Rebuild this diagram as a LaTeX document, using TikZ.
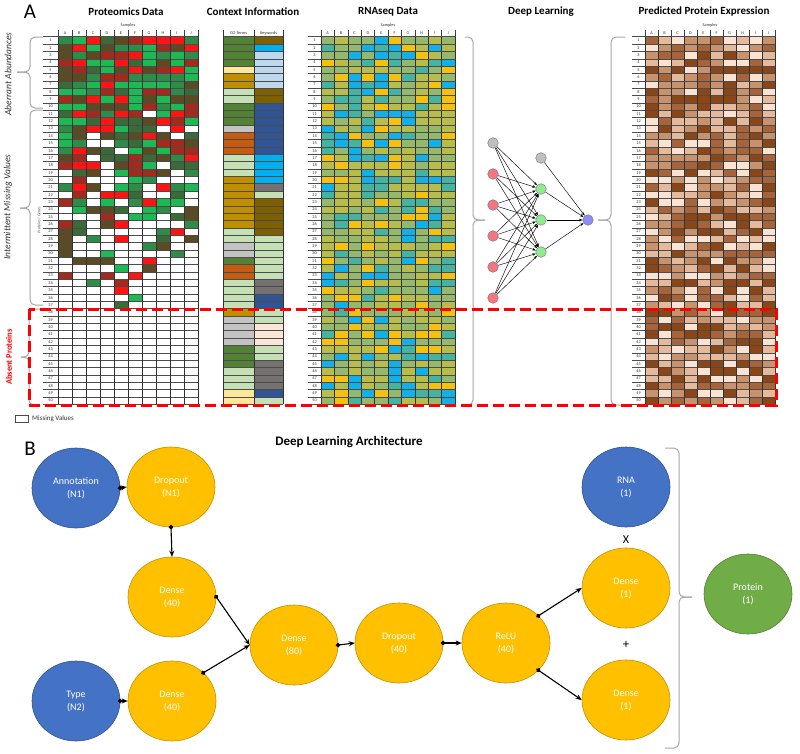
\documentclass[tikz,border=0pt]{standalone}
\usepackage{fontspec}
\setmainfont{Carlito}
\usetikzlibrary{arrows.meta,shapes.geometric}

\definecolor{pr1}{HTML}{FF1414}
\definecolor{pr2}{HTML}{A52A1E}
\definecolor{pr3}{HTML}{1DB954}
\definecolor{pr4}{HTML}{2E8B48}
\definecolor{pr5}{HTML}{3A6A38}
\definecolor{pr6}{HTML}{5B4A22}

\definecolor{rn1}{HTML}{B6BD4A}
\definecolor{rn2}{HTML}{B6BD4A}
\definecolor{rn3}{HTML}{94B86C}
\definecolor{rn4}{HTML}{94B86C}
\definecolor{rn5}{HTML}{45B3A2}
\definecolor{rn6}{HTML}{12B0E8}
\definecolor{rn7}{HTML}{F5C111}

\definecolor{pp1}{HTML}{FBE3D3}
\definecolor{pp2}{HTML}{E4B99C}
\definecolor{pp3}{HTML}{C8926C}
\definecolor{pp4}{HTML}{A7643A}
\definecolor{pp5}{HTML}{8A4616}

\definecolor{cdg}{HTML}{548235}
\definecolor{cly}{HTML}{FFE699}
\definecolor{cgo}{HTML}{BF8F00}
\definecolor{clg}{HTML}{C5E0B4}
\definecolor{cgr}{HTML}{C3C3C3}
\definecolor{cor}{HTML}{C55A11}
\definecolor{kbr}{HTML}{7F6000}
\definecolor{ksb}{HTML}{00B0F0}
\definecolor{klb}{HTML}{BDD7EE}
\definecolor{kdb}{HTML}{2F5597}
\definecolor{kgy}{HTML}{767171}
\definecolor{kpk}{HTML}{FBE5D6}

\definecolor{bblue}{HTML}{4472C4}
\definecolor{bblueD}{HTML}{2F528F}
\definecolor{byel}{HTML}{FFC000}
\definecolor{byelD}{HTML}{BF9000}
\definecolor{bgrn}{HTML}{70AD47}
\definecolor{bgrnD}{HTML}{507E32}
\definecolor{braceg}{HTML}{A6A6A6}
\definecolor{nred}{HTML}{F4777F}
\definecolor{ngrn}{HTML}{8EEB8E}
\definecolor{nblu}{HTML}{8C8CF5}
\definecolor{ngry}{HTML}{BFBFBF}

\newcommand{\gridframe}[4]{%
  \node[tinyt] (#4smp) at ({#2+5*#3},25) {Samples};
  \foreach \L [count=\cc] in {A,B,C,D,E,F,G,H,I,J}{%
    \node[tinyt] (#4h\cc) at ({#2+(\cc-0.5)*#3},33) {\L};
    \draw[hdrl] ({#2+(\cc-1)*#3},29.5) -- ({#2+(\cc-1)*#3},36.7);
  }
  \draw[hdrl] ({#2+10*#3},29.5) -- ({#2+10*#3},36.7);
  \foreach \rr in {0,...,50}{\draw[gridl] (#1,{36.7+\rr*7.35}) -- ({#2+10*#3},{36.7+\rr*7.35});}
  \foreach \cc in {0,...,10}{\draw[gridv] ({#2+\cc*#3},36.7) -- ({#2+\cc*#3},404.2);}
  \foreach \rr in {1,...,50}{\node[tinyt] (#4n\rr) at ({(#1+#2)/2},{36.7+(\rr-0.5)*7.35}) {\rr};}
}

\newcommand{\bbrace}[6]{%
  \draw[brc] (#1,#4) -- (#2,#4) -- (#2,#5) -- (#3,#5);
  \draw[brc] (#1,#6) -- (#2,#6) -- (#2,#5) -- (#3,#5);
}

\begin{document}
\begin{tikzpicture}[x=1pt,y=-1pt,
  tinyt/.style={font=\fontsize{4.3}{4.3}\selectfont, inner sep=0, text=black!80},
  hdrl/.style={draw=black!75, line width=0.5pt},
  gridl/.style={draw=black!70, line width=0.45pt},
  gridv/.style={draw=black!80, line width=0.6pt},
  brc/.style={draw=braceg, line width=1pt, rounded corners=5pt},
  ttl/.style={font=\bfseries\fontsize{11}{12}\selectfont, inner sep=0},
  nn/.style={circle, minimum size=10.6pt, inner sep=0, draw=black!55, line width=0.4pt},
  nedge/.style={draw=black, line width=0.45pt, -{Stealth[length=3.5pt,width=2.6pt]}},
  bnode/.style={ellipse, minimum width=88pt, minimum height=80pt, inner sep=0, text=white, align=center, font=\fontsize{10}{13}\selectfont, line width=0.6pt},
  nb/.style={bnode, fill=bblue, draw=bblueD},
  ny/.style={bnode, fill=byel, draw=byelD},
  ng/.style={bnode, fill=bgrn, draw=bgrnD},
  conn/.style={line width=1.1pt, shorten <=-2.5pt, arrows={Circle[length=4.5pt]-Stealth[length=6pt,width=5pt]}}
]
\useasboundingbox[fill=white] (0,0) rectangle (800,753);

% ---------------- titles
\node[inner sep=0, font=\fontsize{21}{21}\selectfont] (lA) at (30,12) {A};
\node[ttl] (t1) at (126,12) {Proteomics Data};
\node[ttl] (t2) at (253,12) {Context Information};
\node[ttl] (t3) at (388,12) {RNAseq Data};
\node[ttl] (t4) at (541,12) {Deep Learning};
\node[ttl] (t5) at (704,12) {Predicted Protein Expression};

% ---------------- proteomics cells
\pgfmathsetseed{11}
\foreach \rr in {1,...,37}{
  \pgfmathsetmacro{\ya}{36.7+(\rr-1)*7.35}
  \pgfmathsetmacro{\pf}{\rr<11 ? 1.1 : 0.92-(\rr-11)*0.031}
  \foreach \cc in {1,...,10}{
    \pgfmathsetmacro{\xa}{58+(\cc-1)*14}
    \pgfmathsetmacro{\rv}{rnd}
    \pgfmathrandominteger{\kk}{1}{6}
    \ifdim\rv pt<\pf pt\relax \fill[pr\kk] (\xa,\ya) rectangle ++(14,7.35);\fi
  }
}
\gridframe{43}{58}{14}{p}

% ---------------- context information
\foreach \g/\kw [count=\rr] in {cdg/kbr,cdg/ksb,cdg/klb,cdg/klb,cly/klb,cgo/klb,cgo/klb,clg/kbr,clg/kbr,cdg/kdb,
  cdg/kdb,cdg/kdb,cgr/kdb,cor/kdb,cor/kdb,cor/kdb,clg/ksb,clg/ksb,clg/ksb,cgo/ksb,
  cgo/kgy,cgo/clg,cgo/kbr,cgo/kbr,cgo/kbr,cgo/kbr,clg/kbr,clg/clg,cgr/clg,cgr/clg,
  cdg/clg,cor/clg,cor/clg,clg/kgy,clg/kgy,clg/kdb,clg/kdb,cgo/clg,cgr/clg,cgr/kpk,
  cgr/kpk,cgr/kpk,cdg/clg,cdg/clg,cdg/kgy,clg/kgy,clg/kgy,clg/kgy,cly/kdb,cly/clg}{
  \pgfmathsetmacro{\ya}{36.7+(\rr-1)*7.35}
  \fill[\g] (223,\ya) rectangle ++(31,7.35);
  \fill[\kw] (254,\ya) rectangle ++(29,7.35);
}
\foreach \rr in {0,...,50}{\draw[gridl] (223,{36.7+\rr*7.35}) -- (283,{36.7+\rr*7.35});}
\foreach \xx in {223,254,283}{\draw[gridv] (\xx,29.5) -- (\xx,404.2);}
\node[tinyt] (goh) at (238.5,33) {GO Terms};
\node[tinyt] (kwh) at (268.5,33) {Keywords};

% ---------------- RNAseq
\pgfmathsetseed{5}
\foreach \rr in {1,...,50}{
  \pgfmathsetmacro{\ya}{36.7+(\rr-1)*7.35}
  \foreach \cc in {1,...,10}{
    \pgfmathsetmacro{\xa}{321+(\cc-1)*13.4}
    \pgfmathrandominteger{\kk}{1}{7}
    \fill[rn\kk] (\xa,\ya) rectangle ++(13.4,7.35);
  }
}
\gridframe{308}{321}{13.4}{r}

% ---------------- predicted
\pgfmathsetseed{23}
\foreach \rr in {1,...,50}{
  \pgfmathsetmacro{\ya}{36.7+(\rr-1)*7.35}
  \foreach \cc in {1,...,10}{
    \pgfmathsetmacro{\xa}{645+(\cc-1)*13}
    \pgfmathrandominteger{\kk}{1}{5}
    \fill[pp\kk] (\xa,\ya) rectangle ++(13,7.35);
  }
}
\gridframe{632}{645}{13}{q}

% ---------------- side labels and braces
\node[rotate=90, inner sep=0, font=\itshape\fontsize{9.5}{10}\selectfont, text=black!80] (lab1) at (8,74) {Aberrant Abundances};
\node[rotate=90, inner sep=0, font=\itshape\fontsize{9.5}{10}\selectfont, text=black!80] (lab2) at (8,207) {Intermittent Missing Values};
\node[rotate=90, inner sep=0, font=\bfseries\fontsize{8.5}{9}\selectfont, text=red] (lab3) at (9,357) {Absent Proteins};
\node[rotate=90, inner sep=0, font=\itshape\fontsize{4}{4}\selectfont, text=black!70] (lab4) at (39,220) {Proteins / Genes};
\bbrace{43}{30}{17}{37}{72}{108}
\bbrace{43}{30}{20}{110}{208}{305}
\bbrace{40}{29}{21}{309}{357}{405}
\bbrace{465}{473}{485}{37}{220}{405}
\bbrace{625}{611}{598}{37}{220}{405}

% ---------------- network
\node[nn, fill=ngry] (g0) at (493,143) {};
\node[nn, fill=nred] (r1) at (493,174) {};
\node[nn, fill=nred] (r2) at (493,205) {};
\node[nn, fill=nred] (r3) at (493,236) {};
\node[nn, fill=nred] (r4) at (493,267) {};
\node[nn, fill=nred] (r5) at (493,298) {};
\node[nn, fill=ngry] (gb) at (541,158) {};
\node[nn, fill=ngrn] (h1) at (541,189) {};
\node[nn, fill=ngrn] (h2) at (541,220) {};
\node[nn, fill=ngrn] (h3) at (541,252) {};
\node[nn, fill=nblu] (o1) at (588,220) {};
\foreach \i in {g0,r1,r2,r3,r4,r5}{\foreach \j in {h1,h2,h3}{\draw[nedge] (\i) -- (\j);}}
\foreach \j in {gb,h1,h2,h3}{\draw[nedge] (\j) -- (o1);}

% ---------------- absent proteins frame and legend
\draw[red, line width=3pt, dash pattern=on 11pt off 5pt] (29,309) rectangle (776,405);
\node[draw=black!70, line width=0.6pt, minimum width=13pt, minimum height=7pt, inner sep=0] (legbox) at (21.5,418.5) {};
\node[anchor=west, inner sep=0, font=\fontsize{7}{8}\selectfont, text=black!80] (legtxt) at (32,418.5) {Missing Values};

% ---------------- part B
\node[inner sep=0, font=\fontsize{21}{21}\selectfont] (lB) at (30,449) {B};
\node[inner sep=0, font=\bfseries\fontsize{13}{14}\selectfont] (tB) at (349,442) {Deep Learning Architecture};

\node[nb] (ann) at (76,488) {Annotation\\(N1)};
\node[ny] (dropn) at (171,487) {Dropout\\(N1)};
\node[ny] (densea) at (172,597) {Dense\\(40)};
\node[nb] (type) at (76,701) {Type\\(N2)};
\node[ny] (denseb) at (172,701) {Dense\\(40)};
\node[ny] (dense80) at (294,645) {Dense\\(80)};
\node[ny] (drop40) at (399,643) {Dropout\\(40)};
\node[ny] (relu) at (506,643) {ReLU\\(40)};
\node[nb] (rna) at (626,487) {RNA\\(1)};
\node[ny] (d1a) at (626,588) {Dense\\(1)};
\node[ny] (d1b) at (626,700) {Dense\\(1)};
\node[ng] (prot) at (748,594) {Protein\\(1)};
\node[inner sep=0, font=\fontsize{12}{12}\selectfont] (times) at (626,540) {X};
\node[inner sep=0, font=\fontsize{13}{13}\selectfont] (plus) at (626,645) {+};

\draw[conn] (ann.east) -- (dropn.west);
\draw[conn] (dropn.south) -- (densea.north);
\draw[conn] (densea.east) -- (dense80.west);
\draw[conn] (denseb.42) -- (dense80.west);
\draw[conn] (type.east) -- (denseb.west);
\draw[conn] (dense80.east) -- (drop40.west);
\draw[conn] (drop40.east) -- (relu.west);
\draw[conn] (relu.40) -- (d1a.west);
\draw[conn] (relu.-40) -- (d1b.west);

\bbrace{665}{679}{692}{448}{597}{748}
\end{tikzpicture}
\end{document}
